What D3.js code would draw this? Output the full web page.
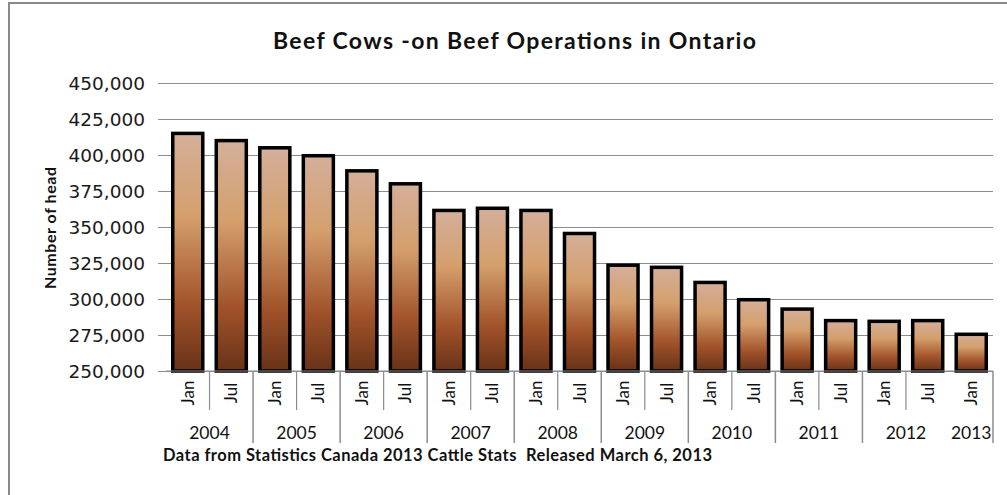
<!DOCTYPE html>
<html>
<head>
<meta charset="utf-8">
<script src="https://cdn.jsdelivr.net/npm/d3@7"></script>
<style>
  body { margin: 0; background: #fff; }
  svg { display: block; }
</style>
</head>
<body>
<div id="chart"></div>
<script>
// data (beef cows, number of head)
const months = ["Jan","Jul","Jan","Jul","Jan","Jul","Jan","Jul","Jan","Jul",
                "Jan","Jul","Jan","Jul","Jan","Jul","Jan","Jul","Jan"];
const years = ["2004","2004","2005","2005","2006","2006","2007","2007","2008","2008",
               "2009","2009","2010","2010","2011","2011","2012","2012","2013"];
const values = [415000, 410000, 405000, 399500, 389000, 380000, 361500, 363000, 361500, 345500,
                323500, 322000, 311500, 299500, 293000, 285000, 284500, 285000, 275500];
const yTicks = [250000, 275000, 300000, 325000, 350000, 375000, 400000, 425000, 450000];
const yearLabels = ["2004","2005","2006","2007","2008","2009","2010","2011","2012","2013"];

const width = 1007, height = 495;
const margin = {top: 83, right: 14, bottom: 124, left: 166};
const innerW = width - margin.left - margin.right,
      innerH = height - margin.top - margin.bottom;

const svg = d3.select("#chart")
  .append("svg")
    .attr("width", width)
    .attr("height", height);

// outer frame (only top and left show in the window)
svg.append("rect")
  .attr("x", 9).attr("y", 3)
  .attr("width", 1020).attr("height", 520)
  .attr("fill", "none")
  .attr("stroke", "#8a8a8a")
  .attr("stroke-width", 2);

// bar gradient
const grad = svg.append("defs").append("linearGradient")
  .attr("id", "bar-grad")
  .attr("x1", 0).attr("y1", 0).attr("x2", 0).attr("y2", 1);
grad.selectAll("stop")
  .data([
    {offset: "0%", color: "#d4af9a"},
    {offset: "35%", color: "#d49f6c"},
    {offset: "72%", color: "#a2532a"},
    {offset: "100%", color: "#683218"}
  ])
  .enter().append("stop")
    .attr("offset", d => d.offset)
    .attr("stop-color", d => d.color);

const g = svg.append("g")
  .attr("transform", `translate(${margin.left},${margin.top})`);

const idx = d3.range(values.length);
const x = d3.scaleBand()
  .domain(idx)
  .range([0, innerW])
  .paddingInner(0.31)
  .paddingOuter(0.155);

const y = d3.scaleLinear()
  .domain([250000, 450000])
  .range([innerH, 0]);

// gridlines + y ticks
const yAxis = g.append("g")
  .call(d3.axisLeft(y)
    .tickValues(yTicks)
    .tickSize(-(innerW + 8))
    .tickPadding(0)
    .tickFormat(d3.format(",")));
yAxis.select(".domain").remove();
yAxis.selectAll(".tick line")
  .attr("x1", -8).attr("x2", innerW)
  .attr("stroke", "#8c8c8c");
yAxis.selectAll(".tick text")
  .attr("x", -21)
  .attr("dy", "0.36em")
  .attr("font-family", "DejaVu Sans")
  .attr("font-size", 18.5)
  .attr("fill", "#1a1a1a");

// bars
g.selectAll(".bar")
  .data(values)
  .enter().append("rect")
    .attr("class", "bar")
    .attr("x", (d, i) => x(i))
    .attr("y", d => y(d))
    .attr("width", x.bandwidth())
    .attr("height", d => y(250000) - y(d))
    .attr("fill", "url(#bar-grad)")
    .attr("stroke", "#000")
    .attr("stroke-width", 3.5);

// x axis line
g.append("line")
  .attr("x1", 0).attr("x2", innerW)
  .attr("y1", innerH).attr("y2", innerH)
  .attr("stroke", "#8c8c8c");

// separators between categories
const step = x.step();
const sepX = i => i * step;
for (let i = 1; i <= values.length; i++) {
  const newYear = i === values.length || years[i] !== years[i - 1];
  if (i === values.length - 1) continue; // the 2012/2013 line is missing in the original
  g.append("line")
    .attr("x1", sepX(i)).attr("x2", sepX(i))
    .attr("y1", innerH).attr("y2", newYear ? innerH + 72 : innerH + 39)
    .attr("stroke", "#8c8c8c")
    .attr("stroke-width", newYear ? 1.5 : 1.2);
}

// month labels
g.selectAll(".month")
  .data(months)
  .enter().append("text")
    .attr("class", "month")
    .attr("transform", (d, i) => `translate(${x(i) + x.bandwidth() / 2 + 6},${innerH + 22})rotate(-90)`)
    .attr("text-anchor", "middle")
    .attr("font-family", "Lato")
    .attr("font-size", 17)
    .attr("fill", "#111")
    .text(d => d);

// year labels, centred on each year's columns
yearLabels.forEach(yr => {
  const cols = idx.filter(i => years[i] === yr);
  const x0 = sepX(cols[0]), x1 = sepX(cols[cols.length - 1] + 1);
  g.append("text")
    .attr("x", (x0 + x1) / 2)
    .attr("y", innerH + 68)
    .attr("text-anchor", "middle")
    .attr("font-family", "Lato")
    .attr("font-size", 17.5)
    .attr("fill", "#111")
    .text(yr);
});

// title
svg.append("text")
  .attr("x", 273).attr("y", 49)
  .attr("font-family", "Lato")
  .attr("font-weight", "bold")
  .attr("font-size", 23)
  .attr("textLength", 483)
  .attr("lengthAdjust", "spacing")
  .attr("fill", "#111")
  .text("Beef Cows -on Beef Operations in Ontario");

// y axis title
svg.append("text")
  .attr("transform", "translate(56,289)rotate(-90)")
  .attr("font-family", "Lato")
  .attr("font-weight", "bold")
  .attr("font-size", 16)
  .attr("textLength", 122)
  .attr("lengthAdjust", "spacing")
  .attr("fill", "#111")
  .text("Number of head");

// source note
svg.append("text")
  .attr("x", 163).attr("y", 461)
  .attr("font-family", "Lato")
  .attr("font-weight", "bold")
  .attr("font-size", 16.5)
  .attr("textLength", 549)
  .attr("lengthAdjust", "spacing")
  .attr("fill", "#111")
  .style("white-space", "pre")
  .text("Data from Statistics Canada 2013 Cattle Stats  Released March 6, 2013");
</script>
</body>
</html>
